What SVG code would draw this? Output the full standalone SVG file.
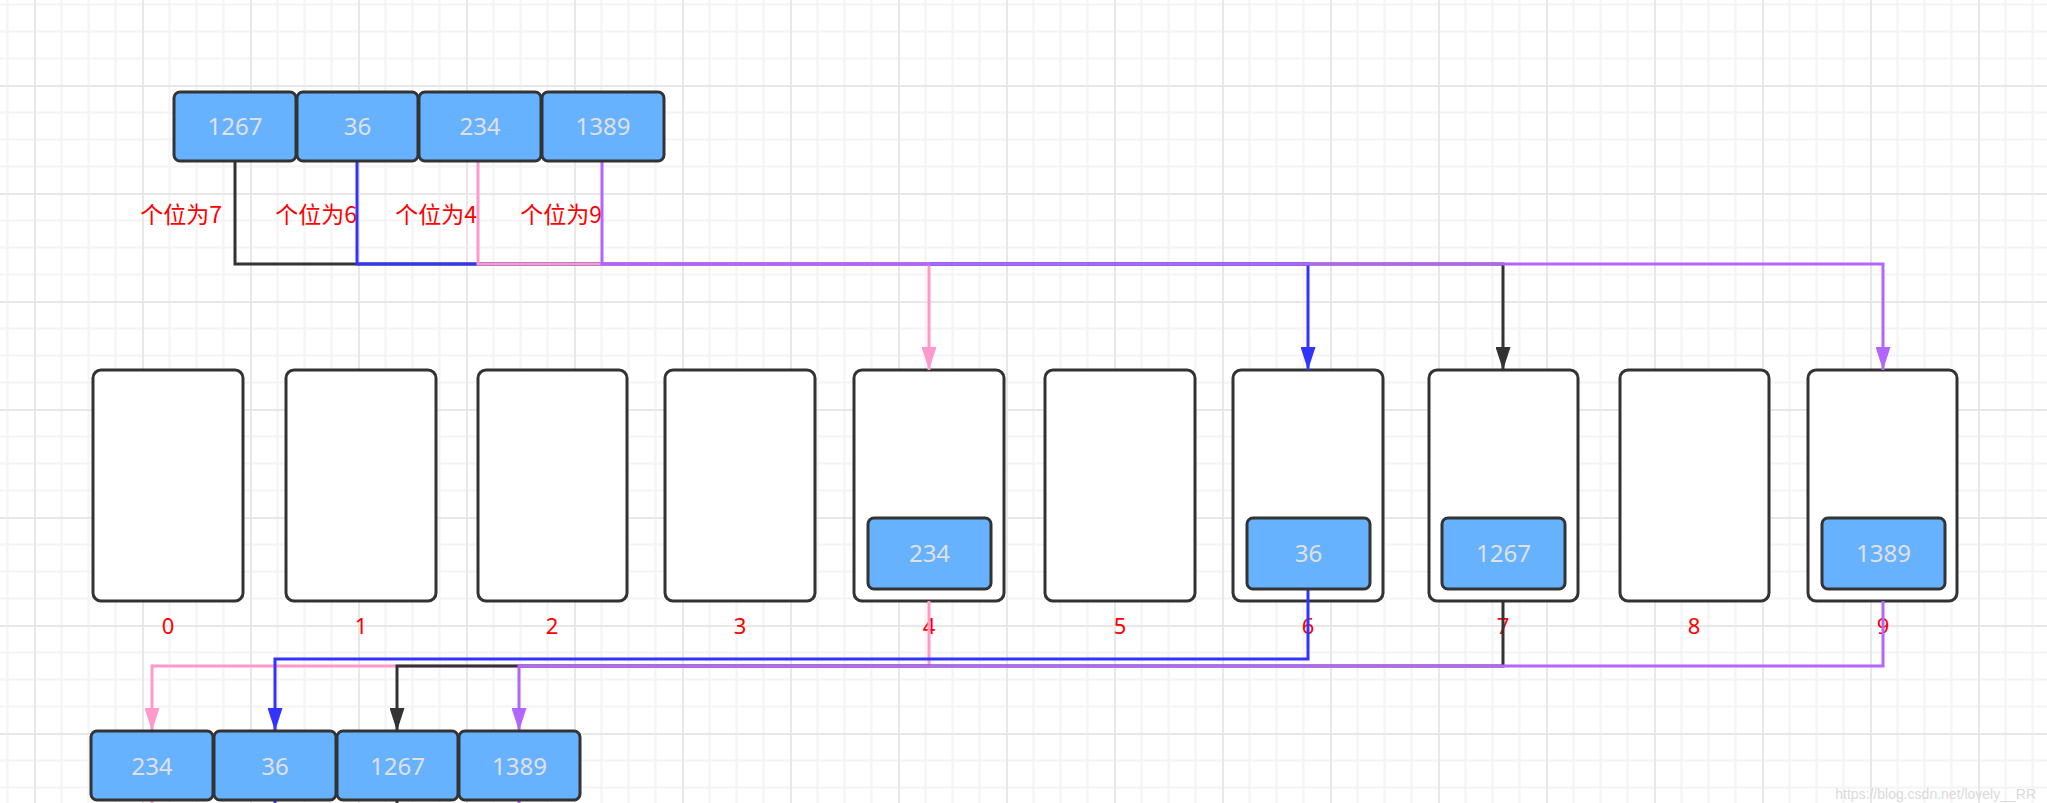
<svg xmlns="http://www.w3.org/2000/svg" width="2047" height="803" viewBox="0 0 2047 803">
<style>
.num{fill:#66B2FF;stroke:#333333;stroke-width:3}
.numt{font-family:"Noto Sans","Open Sans",sans-serif;font-size:24px;fill:#E0E0E0;text-anchor:middle}
.bucket{fill:#FFFFFF;stroke:#333333;stroke-width:3}
.red{font-family:"Noto Sans","Noto Sans CJK SC",sans-serif;font-size:22px;fill:#FF0000;text-anchor:middle}
.cn{font-family:"Noto Sans CJK SC","Noto Sans",sans-serif;font-size:23px;fill:#FF0000;text-anchor:end}
.c{fill:none;stroke-width:3}
</style>
<defs>
<pattern id="grid" patternUnits="userSpaceOnUse" x="34" y="85" width="108" height="108">
<rect x="0" y="0" width="108" height="108" fill="#FFFFFF"/>
<rect x="26.5" y="0" width="2" height="108" fill="#F4F4F4"/>
<rect x="53.5" y="0" width="2" height="108" fill="#F4F4F4"/>
<rect x="80.5" y="0" width="2" height="108" fill="#F4F4F4"/>
<rect x="0" y="26.5" width="108" height="2" fill="#F4F4F4"/>
<rect x="0" y="53.5" width="108" height="2" fill="#F4F4F4"/>
<rect x="0" y="80.5" width="108" height="2" fill="#F4F4F4"/>
<rect x="0" y="0" width="2" height="108" fill="#E8E8E8"/>
<rect x="0" y="0" width="108" height="2" fill="#E8E8E8"/>
</pattern>
<marker id="aBlack" markerUnits="userSpaceOnUse" viewBox="0 0 23 15" refX="23" refY="7.5" markerWidth="23" markerHeight="15" orient="auto"><path d="M0,0 L23,7.5 L0,15 Z" fill="#333333"/></marker>
<marker id="aBlue" markerUnits="userSpaceOnUse" viewBox="0 0 23 15" refX="23" refY="7.5" markerWidth="23" markerHeight="15" orient="auto"><path d="M0,0 L23,7.5 L0,15 Z" fill="#3333FF"/></marker>
<marker id="aPink" markerUnits="userSpaceOnUse" viewBox="0 0 23 15" refX="23" refY="7.5" markerWidth="23" markerHeight="15" orient="auto"><path d="M0,0 L23,7.5 L0,15 Z" fill="#FF99CC"/></marker>
<marker id="aPurple" markerUnits="userSpaceOnUse" viewBox="0 0 23 15" refX="23" refY="7.5" markerWidth="23" markerHeight="15" orient="auto"><path d="M0,0 L23,7.5 L0,15 Z" fill="#B266FF"/></marker>
</defs>
<rect x="0" y="0" width="2047" height="803" fill="url(#grid)"/>

<g id="labels">
<text class="cn" x="222" y="223">个位为7</text>
<text class="cn" x="357" y="223">个位为6</text>
<text class="cn" x="477" y="223">个位为4</text>
<text class="cn" x="602" y="223">个位为9</text>
</g>

<g id="bucket-0"><rect class="bucket" x="93" y="370" width="150" height="231" rx="8"/><text class="red" x="168" y="634">0</text></g>
<g id="bucket-1"><rect class="bucket" x="286" y="370" width="150" height="231" rx="8"/><text class="red" x="361" y="634">1</text></g>
<g id="bucket-2"><rect class="bucket" x="478" y="370" width="149" height="231" rx="8"/><text class="red" x="552" y="634">2</text></g>
<g id="bucket-3"><rect class="bucket" x="665" y="370" width="150" height="231" rx="8"/><text class="red" x="740" y="634">3</text></g>
<g id="bucket-4"><rect class="bucket" x="854" y="370" width="150" height="231" rx="8"/><text class="red" x="929" y="634">4</text></g>
<g id="bucket-5"><rect class="bucket" x="1045" y="370" width="150" height="231" rx="8"/><text class="red" x="1120" y="634">5</text></g>
<g id="bucket-6"><rect class="bucket" x="1233" y="370" width="150" height="231" rx="8"/><text class="red" x="1308" y="634">6</text></g>
<g id="bucket-7"><rect class="bucket" x="1429" y="370" width="149" height="231" rx="8"/><text class="red" x="1503" y="634">7</text></g>
<g id="bucket-8"><rect class="bucket" x="1620" y="370" width="149" height="231" rx="8"/><text class="red" x="1694" y="634">8</text></g>
<g id="bucket-9"><rect class="bucket" x="1808" y="370" width="149" height="231" rx="8"/><text class="red" x="1883" y="634">9</text></g>

<g id="connectors">
<path class="c" stroke="#333333" d="M235,161 V264 H1503 V370" marker-end="url(#aBlack)"/>
<path class="c" stroke="#3333FF" d="M357,161 V264 H1308 V370" marker-end="url(#aBlue)"/>
<path class="c" stroke="#FF99CC" d="M478,161 V264 H929 V370" marker-end="url(#aPink)"/>
<path class="c" stroke="#B266FF" d="M602,161 V264 H1883 V370" marker-end="url(#aPurple)"/>
<path class="c" stroke="#FF99CC" d="M929,601 V666 H152 V731" marker-end="url(#aPink)"/>
<path class="c" stroke="#333333" d="M1503,601 V666 H397 V731" marker-end="url(#aBlack)"/>
<path class="c" stroke="#B266FF" d="M1883,601 V666 H519 V731" marker-end="url(#aPurple)"/>
<path class="c" stroke="#3333FF" d="M1308,589 V659 H275 V731" marker-end="url(#aBlue)"/>
<path class="c" stroke="#FF99CC" d="M152,800 V803"/>
<path class="c" stroke="#3333FF" d="M275,800 V803"/>
<path class="c" stroke="#333333" d="M397,800 V803"/>
<path class="c" stroke="#B266FF" d="M519,800 V803"/>
</g>

<g id="in-4"><rect class="num" x="868" y="518" width="123" height="71" rx="6"/><text class="numt" x="929.5" y="562">234</text></g>
<g id="in-6"><rect class="num" x="1247" y="518" width="123" height="71" rx="6"/><text class="numt" x="1308.5" y="562">36</text></g>
<g id="in-7"><rect class="num" x="1442" y="518" width="123" height="71" rx="6"/><text class="numt" x="1503.5" y="562">1267</text></g>
<g id="in-9"><rect class="num" x="1822" y="518" width="123" height="71" rx="6"/><text class="numt" x="1883.5" y="562">1389</text></g>

<g id="top-1267"><rect class="num" x="174" y="92" width="122" height="69" rx="6"/><text class="numt" x="235" y="135">1267</text></g>
<g id="top-36"><rect class="num" x="297" y="92" width="121" height="69" rx="6"/><text class="numt" x="357.5" y="135">36</text></g>
<g id="top-234"><rect class="num" x="419" y="92" width="122" height="69" rx="6"/><text class="numt" x="480" y="135">234</text></g>
<g id="top-1389"><rect class="num" x="542" y="92" width="122" height="69" rx="6"/><text class="numt" x="603" y="135">1389</text></g>

<g id="bot-234"><rect class="num" x="91" y="731" width="122" height="69" rx="6"/><text class="numt" x="152" y="775">234</text></g>
<g id="bot-36"><rect class="num" x="214" y="731" width="122" height="69" rx="6"/><text class="numt" x="275" y="775">36</text></g>
<g id="bot-1267"><rect class="num" x="337" y="731" width="121" height="69" rx="6"/><text class="numt" x="397.5" y="775">1267</text></g>
<g id="bot-1389"><rect class="num" x="459" y="731" width="121" height="69" rx="6"/><text class="numt" x="519.5" y="775">1389</text></g>

<text x="2036" y="799" font-family="Liberation Sans, sans-serif" font-size="14" fill="#DADADA" text-anchor="end">https://blog.csdn.net/lovely__RR</text>
</svg>
